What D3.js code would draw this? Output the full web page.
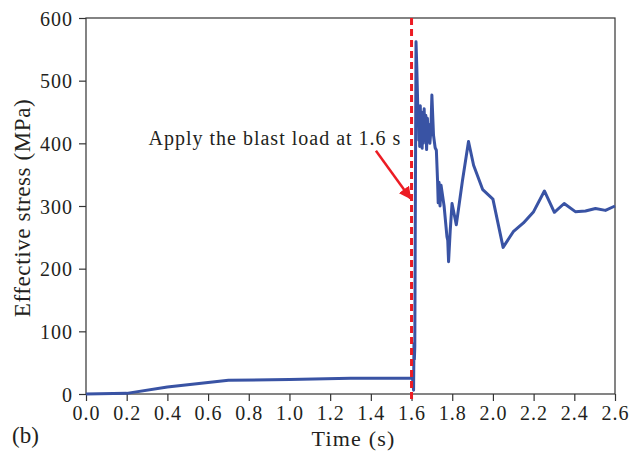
<!DOCTYPE html>
<html>
<head>
<meta charset="utf-8">
<style>
	body { margin: 0; background: #fff; }
	svg text { font-family: "Liberation Serif", "Times New Roman", serif; fill: #231f20; }
	.axis path, .axis line { stroke: #333; stroke-width: 1.2px; }
</style>
</head>
<body>
<svg width="630" height="451"></svg>
<script src="https://d3js.org/d3.v7.min.js"></script>
<script>

	// time (s) and effective stress (MPa)
	var time = [0, 0.2, 0.4, 0.7, 1.0, 1.3, 1.6, 1.605, 1.61, 1.612, 1.614, 1.616, 1.622, 1.626, 1.63,
		1.632, 1.634, 1.636, 1.638, 1.64, 1.643, 1.646, 1.649, 1.652, 1.655, 1.658, 1.662, 1.666, 1.67,
		1.674, 1.678, 1.682, 1.686, 1.69, 1.695, 1.7, 1.708, 1.716, 1.722, 1.728, 1.731, 1.735, 1.74,
		1.745, 1.76, 1.774, 1.778, 1.782, 1.79, 1.799, 1.82, 1.85, 1.88, 1.905, 1.95, 2.0, 2.05, 2.1,
		2.15, 2.2, 2.253, 2.302, 2.35, 2.405, 2.455, 2.504, 2.553, 2.6];
	var stress = [0, 1, 11, 22, 23, 25, 25, 25, 6, 80, 55, 75, 562, 520, 466,
		430, 455, 405, 450, 395, 460, 410, 450, 392, 440, 400, 455, 405, 445,
		390, 440, 410, 430, 400, 420, 477, 413, 393, 389, 339, 305, 338, 300,
		333, 300, 251, 245, 211, 260, 304, 270, 340, 403, 365, 326, 311, 234, 259,
		273, 291, 324, 290, 304, 291, 292, 296, 293, 300];

	var xTicks = [0, 0.2, 0.4, 0.6, 0.8, 1.0, 1.2, 1.4, 1.6, 1.8, 2.0, 2.2, 2.4, 2.6];
	var yTicks = [0, 100, 200, 300, 400, 500, 600];
	var loadTime = 1.6;

	var serif = "'Liberation Serif', 'Times New Roman', serif";

	var svg = d3.select("svg"),
		margin = { top: 18, right: 15, bottom: 57, left: 86 },
		width = +svg.attr("width") - margin.left - margin.right,
		height = +svg.attr("height") - margin.top - margin.bottom;

	var x = d3.scaleLinear().domain([0, 2.6]).range([0, width]);
	var y = d3.scaleLinear().domain([0, 600]).range([height, 0]);

	var g = svg.append("g")
		.attr("transform", "translate(" + margin.left + "," + margin.top + ")");

	// frame
	g.append("rect")
		.attr("width", width)
		.attr("height", height)
		.attr("fill", "none")
		.attr("stroke", "#333")
		.attr("stroke-width", 1.2);

	var xAxis = g.append("g")
		.attr("class", "axis")
		.attr("transform", "translate(0," + height + ")")
		.call(d3.axisBottom(x).tickValues(xTicks).tickSize(7).tickSizeOuter(0).tickPadding(5)
			.tickFormat(d3.format(".1f")))
		.attr("font-family", serif)
		.attr("font-size", 20);
	xAxis.selectAll("text")
		.attr("letter-spacing", "1px")
		.attr("dy", "0.7em");

	var yAxis = g.append("g")
		.attr("class", "axis")
		.call(d3.axisLeft(y).tickValues(yTicks).tickSize(7).tickSizeOuter(0).tickPadding(6))
		.attr("font-family", serif)
		.attr("font-size", 20);
	yAxis.selectAll("text")
		.attr("letter-spacing", "1px")
		.attr("dy", "0.35em");
	svg.selectAll(".domain").remove();

	var pts = time.map(function (t, i) { return [t, stress[i]]; });

	var line = d3.line()
		.x(function (d) { return x(d[0]); })
		.y(function (d) { return y(d[1]); });

	g.append("path")
		.datum(pts)
		.attr("fill", "none")
		.attr("stroke", "#3953a4")
		.attr("stroke-width", 3)
		.attr("stroke-linejoin", "round")
		.attr("d", line);

	// blast load marker
	g.append("line")
		.attr("x1", x(loadTime)).attr("x2", x(loadTime))
		.attr("y1", 0).attr("y2", height + 6)
		.attr("stroke", "#ec1c24")
		.attr("stroke-width", 3)
		.attr("stroke-dasharray", "7,4");

	svg.append("defs").append("marker")
		.attr("id", "arrow")
		.attr("viewBox", "0 0 10 10")
		.attr("refX", 9).attr("refY", 5)
		.attr("markerWidth", 5).attr("markerHeight", 5)
		.attr("markerUnits", "strokeWidth")
		.attr("orient", "auto")
		.append("path")
		.attr("d", "M0,0L10,5L0,10z")
		.attr("fill", "#ec1c24");

	g.append("line")
		.attr("x1", x(1.425)).attr("y1", y(388))
		.attr("x2", x(1.595)).attr("y2", y(312))
		.attr("stroke", "#ec1c24")
		.attr("stroke-width", 2.5)
		.attr("marker-end", "url(#arrow)");

	g.append("text")
		.attr("x", x(1.55))
		.attr("y", y(397))
		.attr("text-anchor", "end")
		.attr("font-size", "20px")
		.attr("letter-spacing", "1px")
		.text("Apply the blast load at 1.6 s");

	// axis titles
	svg.append("text")
		.attr("x", margin.left + width / 2 + 3)
		.attr("y", 446)
		.attr("text-anchor", "middle")
		.attr("font-size", "22px")
		.attr("letter-spacing", "1.2px")
		.text("Time (s)");

	svg.append("text")
		.attr("transform", "translate(30," + (margin.top + height / 2 + 2) + ") rotate(-90)")
		.attr("text-anchor", "middle")
		.attr("font-size", "23px")
		.attr("letter-spacing", "0.6px")
		.text("Effective stress (MPa)");

	svg.append("text")
		.attr("x", 12)
		.attr("y", 443)
		.attr("font-size", "23px")
		.text("(b)");

</script>
</body>
</html>
